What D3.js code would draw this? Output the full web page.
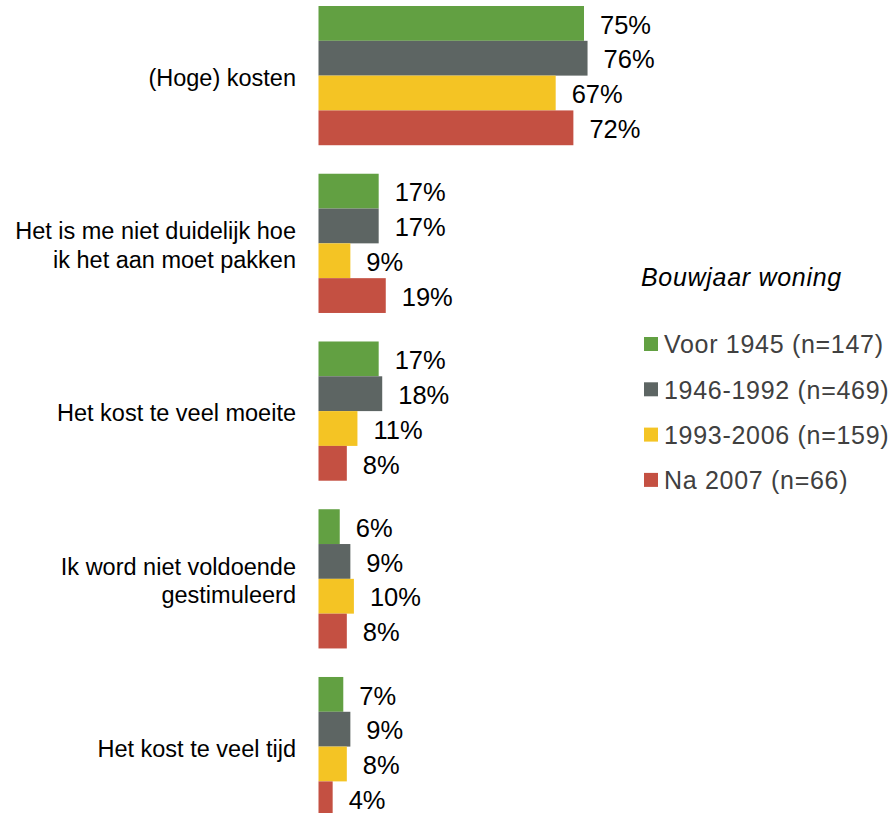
<!DOCTYPE html>
<html>
<head>
<meta charset="utf-8">
<script src="https://cdn.jsdelivr.net/npm/d3@7"></script>
<style>
  body { margin: 0; background: #fff; }
  svg { display: block; font-family: "Liberation Sans", Arial, sans-serif; }
</style>
</head>
<body>
<svg width="891" height="813"></svg>
<script>
// categories (top to bottom), line breaks marked with \n
let categories = [
  "(Hoge) kosten",
  "Het is me niet duidelijk hoe\nik het aan moet pakken",
  "Het kost te veel moeite",
  "Ik word niet voldoende\ngestimuleerd",
  "Het kost te veel tijd"
];

let seriesNames = ["Voor 1945 (n=147)", "1946-1992 (n=469)", "1993-2006 (n=159)", "Na 2007 (n=66)"];
let seriesColors = ["#62a042", "#5d6563", "#f4c424", "#c45042"];

// percentages per series, same order as categories
let voor1945 = [75, 17, 17, 6, 7];
let tot1992 = [76, 17, 18, 9, 9];
let tot2006 = [67, 9, 11, 10, 8];
let na2007 = [72, 19, 8, 8, 4];

let legendTitle = "Bouwjaar woning";

let seriesValues = [voor1945, tot1992, tot2006, na2007];

let svg = d3.select('svg');

let x = d3.scaleLinear().domain([0, 100]).range([318.5, 318.5 + 354]);

let y = d3.scaleBand()
  .domain(categories)
  .range([6, 816.2])
  .paddingInner(0.17)
  .paddingOuter(0);

let ySub = d3.scaleBand()
  .domain(d3.range(seriesNames.length))
  .range([0, y.bandwidth()])
  .padding(0);

let rows = [];
categories.forEach(function(cat, i) {
  seriesValues.forEach(function(vals, s) {
    rows.push({ cat: cat, s: s, value: vals[i] });
  });
});

// bars
svg.append('g').selectAll('rect').data(rows).enter().append('rect')
  .attr('x', x(0))
  .attr('y', function(d) { return y(d.cat) + ySub(d.s); })
  .attr('width', function(d) { return x(d.value) - x(0); })
  .attr('height', ySub.bandwidth())
  .attr('fill', function(d) { return seriesColors[d.s]; });

// value labels
svg.append('g').selectAll('text').data(rows).enter().append('text')
  .attr('x', function(d) { return x(d.value) + 16; })
  .attr('y', function(d) { return y(d.cat) + ySub(d.s) + ySub.bandwidth() / 2; })
  .attr('dy', '0.4em')
  .attr('font-size', 25.5)
  .attr('fill', '#000')
  .text(function(d) { return d.value + '%'; });

// category labels
let catLabels = svg.append('g').selectAll('text').data(categories).enter().append('text')
  .attr('x', 296)
  .attr('y', function(d) { return y(d) + y.bandwidth() / 2; })
  .attr('text-anchor', 'end')
  .attr('font-size', 23.5)
  .attr('fill', '#000');

catLabels.each(function(d) {
  let lines = d.split('\n');
  let t = d3.select(this);
  lines.forEach(function(line, k) {
    t.append('tspan')
      .attr('x', 296)
      .attr('dy', k === 0 ? ((0.43 - (lines.length - 1) * 0.6) + 'em') : '1.2em')
      .text(line);
  });
});

// legend
let legend = svg.append('g');
legend.append('text')
  .attr('x', 641)
  .attr('y', 286)
  .attr('font-size', 25)
  .attr('font-style', 'italic')
  .attr('letter-spacing', 0.7)
  .attr('fill', '#000')
  .text(legendTitle);

let items = legend.selectAll('g.item').data(seriesNames).enter().append('g')
  .attr('class', 'item')
  .attr('transform', function(d, i) { return 'translate(644,' + (344 + i * 45.3) + ')'; });

items.append('rect')
  .attr('x', 0).attr('y', -7)
  .attr('width', 14).attr('height', 14)
  .attr('fill', function(d, i) { return seriesColors[i]; });

items.append('text')
  .attr('x', 20)
  .attr('dy', '0.37em')
  .attr('font-size', 25)
  .attr('letter-spacing', 0.7)
  .attr('fill', '#404040')
  .text(function(d) { return d; });
</script>
</body>
</html>
